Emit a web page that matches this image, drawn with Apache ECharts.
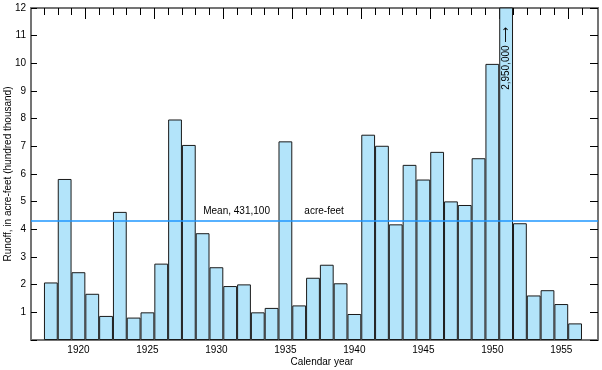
<!DOCTYPE html>
<html>
<head>
<meta charset="utf-8">
<script src="https://cdn.jsdelivr.net/npm/echarts@6/dist/echarts.min.js"></script>
<style>html,body{margin:0;padding:0;background:#fff}#c{width:602px;height:370px}</style>
</head>
<body>
<div id="c"></div>
<script>
// Calendar years (categories)
const years = [1918,1919,1920,1921,1922,1923,1924,1925,1926,1927,1928,1929,1930,1931,1932,1933,1934,1935,1936,1937,
               1938,1939,1940,1941,1942,1943,1944,1945,1946,1947,1948,1949,1950,1951,1952,1953,1954,1955,1956];
// Runoff, hundred thousand acre-feet
const runoff = [2.08,5.82,2.45,1.67,0.87,4.63,0.81,1.00,2.76,7.97,7.05,3.86,2.63,1.95,2.01,1.00,1.16,7.18,1.25,2.25,
                2.72,2.05,0.94,7.42,7.02,4.18,6.33,5.80,6.80,5.01,4.88,6.57,9.98,29.50,4.22,1.61,1.80,1.30,0.60];
// Tick labels
const xTickLabels = [1920,1925,1930,1935,1940,1945,1950,1955];
const yTickLabels = [1,2,3,4,5,6,7,8,9,10,11,12];
// Mean annual runoff
const meanValue = 4.311;
const meanText1 = 'Mean, 431,100';
const meanText2 = 'acre-feet';
const peakYear = 1951;
const peakText = '2,950,000 {a|\u27F6}';

const FONT = "'Liberation Sans', Arial, Helvetica, sans-serif";
const FRAME = '#747474';
const X_MIN = 1916.56, X_MAX = 1957.66;

const boundaries = years.map(y => y - 0.5).concat([years[years.length - 1] + 0.5]);
const majorBoundaries = xTickLabels.map(y => y + 0.5);

const chart = echarts.init(document.getElementById('c'), null, {renderer: 'canvas'});
chart.setOption({
  animation: false,
  backgroundColor: '#fff',
  textStyle: {fontFamily: FONT},
  grid: {left: 31, right: 4, top: 8, bottom: 30, outerBoundsMode: 'none', containLabel: false},
  xAxis: [
    {
      type: 'value', position: 'bottom', min: X_MIN, max: X_MAX,
      axisLine: {show: true, onZero: false, lineStyle: {color: FRAME, width: 2}},
      axisTick: {show: false},
      splitLine: {show: false},
      axisLabel: {customValues: xTickLabels, formatter: v => String(v), color: '#000', fontSize: 10, fontFamily: FONT, margin: 5},
      name: 'Calendar year', nameLocation: 'middle', nameGap: 17, nameMoveOverlap: false,
      nameTextStyle: {color: '#000', fontSize: 10, fontFamily: FONT, padding: [0, 0, 0, 15]}
    },
    {
      type: 'value', position: 'top', min: X_MIN, max: X_MAX,
      axisLine: {show: true, onZero: false, lineStyle: {color: FRAME, width: 2}},
      axisTick: {show: true, inside: true, length: 7, customValues: boundaries, lineStyle: {color: '#000', width: 1}},
      axisLabel: {show: false},
      splitLine: {show: false}
    },
    {
      type: 'value', position: 'top', min: X_MIN, max: X_MAX,
      axisLine: {show: false, onZero: false},
      axisTick: {show: true, inside: true, length: 11, customValues: majorBoundaries, lineStyle: {color: '#000', width: 1}},
      axisLabel: {show: false},
      splitLine: {show: false}
    }
  ],
  yAxis: [
    {
      type: 'value', position: 'left', min: 0, max: 12, interval: 1,
      axisLine: {show: true, onZero: false, lineStyle: {color: FRAME, width: 2}},
      axisTick: {show: true, inside: true, length: 6, lineStyle: {color: '#000', width: 1}},
      axisLabel: {customValues: yTickLabels, formatter: v => String(v), color: '#000', fontSize: 10, fontFamily: FONT, margin: 5},
      splitLine: {show: false},
      name: 'Runoff, in acre-feet (hundred thousand)', nameLocation: 'middle', nameGap: 18, nameMoveOverlap: false,
      nameTextStyle: {color: '#000', fontSize: 10, fontFamily: FONT}
    },
    {
      type: 'value', position: 'right', min: 0, max: 12, interval: 1,
      axisLine: {show: true, onZero: false, lineStyle: {color: FRAME, width: 2}},
      axisTick: {show: true, inside: true, length: 8, lineStyle: {color: '#000', width: 1}},
      axisLabel: {show: false},
      splitLine: {show: false}
    }
  ],
  series: [{
    type: 'bar',
    xAxisIndex: 0, yAxisIndex: 0,
    data: years.map((y, i) => [y, runoff[i]]),
    barWidth: '100%',
    clip: true,
    itemStyle: {color: '#b3e4fa', borderColor: '#1a1a1a', borderWidth: 1},
    markLine: {
      silent: true, symbol: 'none', z: 10,
      label: {show: false},
      lineStyle: {color: '#1f97ff', width: 1.5, type: 'solid'},
      data: [{yAxis: meanValue}]
    },
    markPoint: {
      silent: true, symbol: 'circle', symbolSize: 1, z: 11,
      itemStyle: {color: 'transparent'},
      data: [
        {coord: [1929.08, meanValue], label: {show: true, formatter: meanText1, position: [0, -14], align: 'left', color: '#000', fontSize: 10, fontFamily: FONT}},
        {coord: [1936.41, meanValue], label: {show: true, formatter: meanText2, position: [0, -14], align: 'left', color: '#000', fontSize: 10, fontFamily: FONT}},
        {coord: [peakYear, 10.18], label: {show: true, formatter: peakText, position: 'inside', rotate: 90, color: '#000', fontSize: 10, fontFamily: FONT,
          rich: {a: {fontFamily: "'DejaVu Sans', sans-serif", fontSize: 11, color: '#000'}}}}
      ]
    }
  }]
});
</script>
</body>
</html>
